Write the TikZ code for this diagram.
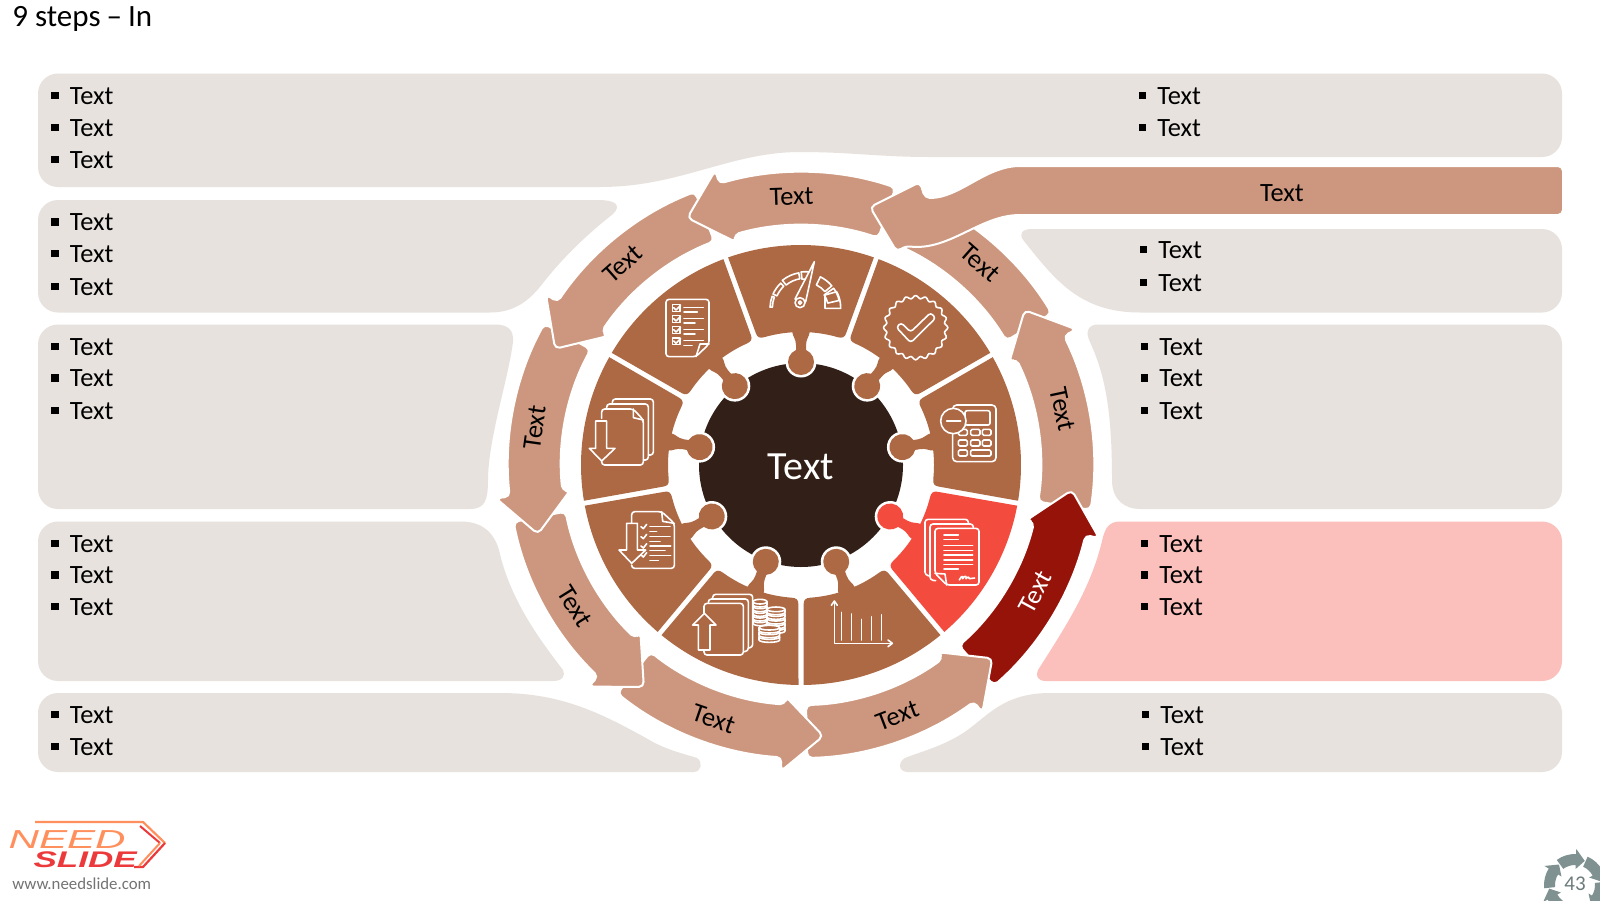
\documentclass[tikz,border=0pt]{standalone}
\usepackage{fontspec}
\setmainfont{Carlito}
\newfontfamily\logofont{Liberation Sans}
\definecolor{secb}{HTML}{AD6844}
\definecolor{secr}{HTML}{F44B3F}
\definecolor{hubc}{HTML}{321F17}
\definecolor{arrc}{HTML}{CC977E}
\definecolor{arrd}{HTML}{96130A}
\definecolor{panc}{HTML}{E7E2DE}
\definecolor{pnkc}{HTML}{FBC0BB}
\definecolor{logoo}{HTML}{FF8F5C}
\definecolor{logor}{HTML}{EC3A3C}
\definecolor{pgc}{HTML}{7F9190}
\newcommand\fs[1]{\fontsize{#1}{#1}\selectfont}
\tikzset{
 panelbox/.style={fill=panc},
 ringscope/.style={shift={(801,465)},y=.5pt},
 zm/.style 2 args={shift={(#1,#2)},x=.16667pt,y=-.16667pt},
 ico/.style={draw=white,line width=.8pt,line join=round,line cap=round},
 arrowshape/.style={draw=white,line width=1pt,line join=round,rounded corners=2.5pt},
 lab/.style={inner sep=0pt,font=\fs{13.2}},
 rowtext/.style={inner sep=0pt,anchor=base west,font=\fs{13.2}},
}
\newcommand\rows[2]{% text x, y list
 \foreach \yy in {#2}{
  \fill[black] ({#1-18.5},{\yy-4.5}) rectangle ({#1-11},{\yy+3});
  \node[rowtext] (t\yy) at (#1,{\yy+8}) {Text};
 }}
\newcommand\gseg[4]{\draw[ico] ([shift={(735,235)}]-#1:#3) arc[start angle=-#1,end angle=-#2,radius=#3] -- ([shift={(735,235)}]-#2:#4) arc[start angle=-#2,end angle=-#1,radius=#4] -- cycle;}
% coin stack: centre x, top y, discs below the top one, x radius
\newcommand\coin[4]{\foreach \i in {#3,...,0}{
  \filldraw[ico,fill=secb] ({#1-#4},{#2+\i*14}) -- ({#1-#4},{#2+\i*14+9}) arc[start angle=180,end angle=0,x radius=#4,y radius=7] -- ({#1+#4},{#2+\i*14}) -- cycle;
  \filldraw[ico,fill=secb] (#1,{#2+\i*14}) ellipse[x radius=#4,y radius=7];
 }}
\begin{document}
\begin{tikzpicture}[x=.5pt,y=-.5pt]
\useasboundingbox (0,0) rectangle (1600,900);
\clip (0,0) rectangle (1600,900);
\fill[white] (0,0) rectangle (1600,900);
% panels
\fill[panelbox] (38,130) [rounded corners=10pt] -- (38,73.5) -- (1562,73.5) -- (1562,157) [sharp corners] -- (930,157) .. controls (880,157) and (850,152) .. (800,152) .. controls (730,152) and (680,187) .. (600,187) [rounded corners=10pt] -- (38,187) -- cycle;
\fill[panelbox] (38,250) [rounded corners=10pt] -- (38,200) [sharp corners] -- (598,200) .. controls (615,200) and (622,205) .. (613,214) .. controls (590,232) and (565,255) .. (543,283) .. controls (530,300) and (515,312.5) .. (490,312.5) [rounded corners=10pt] -- (38,312.5) -- cycle;
\fill[panelbox] (38,400) [rounded corners=10pt] -- (38,324.5) [sharp corners] -- (495,324.5) .. controls (508,324.5) and (514,330) .. (513,342) .. controls (508,380) and (488,440) .. (488,480) .. controls (488,500) and (485,509) .. (470,509) [rounded corners=10pt] -- (38,509) -- cycle;
\fill[panelbox] (38,600) [rounded corners=10pt] -- (38,521.5) [sharp corners] -- (460,521.5) .. controls (480,521.5) and (493,530) .. (499,550) .. controls (510,600) and (540,640) .. (563,670) .. controls (566,676) and (562,681) .. (553,681) [rounded corners=10pt] -- (38,681) -- cycle;
\fill[panelbox] (38,730) [rounded corners=10pt] -- (38,693) [sharp corners] -- (500,693) .. controls (560,693) and (600,712) .. (653,742) .. controls (670,751) and (685,754) .. (697,758) .. controls (703,762) and (702,772) .. (693,772) [rounded corners=10pt] -- (38,772) -- cycle;
\fill[panelbox] (1562,730) [rounded corners=10pt] -- (1562,693) [sharp corners] -- (1050,693) .. controls (1000,693) and (985,720) .. (960,735) .. controls (940,747) and (920,752) .. (905,758) .. controls (898,762) and (898,772) .. (908,772) [rounded corners=10pt] -- (1562,772) -- cycle;
\fill[pnkc] (1562,600) [rounded corners=10pt] -- (1562,521.5) [sharp corners] -- (1120,521.5) .. controls (1108,521.5) and (1105,530) .. (1103,537) .. controls (1092,585) and (1070,620) .. (1038,670) .. controls (1035,676) and (1038,681) .. (1046,681) [rounded corners=10pt] -- (1562,681) -- cycle;
\fill[panelbox] (1562,400) [rounded corners=10pt] -- (1562,324.5) [sharp corners] -- (1098,324.5) .. controls (1088,324.5) and (1085,332) .. (1090,342) .. controls (1105,375) and (1112,410) .. (1112,480) .. controls (1112,500) and (1125,509) .. (1140,509) [rounded corners=10pt] -- (1562,509) -- cycle;
\fill[panelbox] (1562,270) [rounded corners=10pt] -- (1562,229) [sharp corners] -- (1032,229) .. controls (1022,229) and (1018,234) .. (1024,241) .. controls (1055,280) and (1080,312.5) .. (1140,312.5) [rounded corners=10pt] -- (1562,312.5) -- cycle;
% arrows
\begin{scope}[ringscope]
\fill[arrc,arrowshape] (31.2:240) arc[start angle=31.2,end angle=67,radius=240] -- (67:293) arc[start angle=67,end angle=31.2,radius=293] -- cycle;
\foreach \a/\c in {34.7/arrc,-5.3/arrd,-45.3/arrc,-85.3/arrc,-125.3/arrc,-165.3/arrc,154.7/arrc,114.7/arrc}{
 \pgfmathsetmacro\t{\a-43.5}
 \pgfmathsetmacro\b{\a-8.5}
 \fill[\c,arrowshape] (\t:240) arc[start angle=\t,end angle=\b,radius=240] -- (\b:232) -- (\a:272) -- (\b:307) -- (\b:293) arc[start angle=\b,end angle=\t,radius=293] -- cycle;
}
\end{scope}
\fill[arrc,arrowshape] (1563,166) -- (1025,166) .. controls (985,166) and (960,198) .. (925,198) -- (920,182) -- (870,207) -- (897,252) -- (905,246) .. controls (950,251) and (980,215) .. (1025,215) -- (1563,215) -- cycle;
% hub
\fill[hubc] (801,465) circle[radius=102];
\begin{scope}[ringscope]
\foreach \a in {90,50,10,-30,-70,-110,-150,170,130}{
 \fill[white] (\a:103) circle[radius=15.5];
}
\foreach \a/\c in {90/secb,50/secb,10/secb,-30/secr,-70/secb,-110/secb,-150/secb,170/secb,130/secb}{
\begin{scope}[rotate=\a]
 \fill[\c] (-19.35:220) arc[start angle=-19.35,end angle=19.35,radius=220] -- (18.9:139) .. controls (18.9:135) and (18:133) .. (16:133) arc[start angle=16,end angle=3.7,radius=133] .. controls (129,8.5) and (126,5) .. (120,5) -- (112,5) -- (112,-5) -- (120,-5) .. controls (126,-5) and (129,-8.5) .. (-3.7:133) arc[start angle=-3.7,end angle=-16,radius=133] .. controls (-18:133) and (-18.9:135) .. (-18.9:139) -- cycle;
 \fill[\c] (103,0) circle[radius=13];
\end{scope}
}
\end{scope}
% gauge
\begin{scope}[zm={560}{230}]
\gseg{178}{160}{105}{98}
\gseg{156}{134}{105}{92}
\gseg{129}{100}{108}{90}
\gseg{96}{80}{110}{88}
\gseg{64}{40}{105}{78}
\gseg{35}{13}{105}{70}
\draw[ico] (795,235) -- (795,195) -- (830,185) .. controls (838,200) and (842,215) .. (842,235) -- cycle;
\filldraw[ico,fill=secb] (705,207) -- (763,95) -- (737,215) -- cycle;
\filldraw[ico,fill=secb] (720,218) circle[radius=15];
\draw[ico] (720,218) circle[radius=5];
% badge
\draw[ico] plot[smooth cycle,domain=0:357,samples=120] ({1067+(92+4.5*cos(20*\x))*cos(\x)},{293+(92+4.5*cos(20*\x))*sin(\x)});
\draw[ico,rounded corners=1.5pt] (1009,292) -- (1023,278) -- (1052,306) -- (1112,248) -- (1127,264) -- (1052,338) -- cycle;
% checklist
\draw[ico,rounded corners=1.5pt] (318,208) -- (447,208) -- (447,342) -- (408,380) -- (318,380) -- cycle;
\draw[ico] (447,342) -- (420,342) -- (408,380);
\foreach \y/\l/\m in {232/430/412,265/430/405,298/430/405,332/430/396}{
 \draw[ico] (338,{\y-8}) rectangle (360,{\y+12});
 \draw[ico] (341,{\y+1}) -- (348,{\y+8}) -- (362,{\y-6});
 \draw[ico] (372,\y) -- (\l,\y);
 \draw[ico] (372,{\y+14}) -- (\m,{\y+14});
}
\end{scope}
% docs down
\begin{scope}[zm={580}{385}]
\draw[ico,rounded corners=1.5pt] (97,57) -- (97,42) -- (220,42) -- (220,210) -- (205,210);
\draw[ico,rounded corners=1.5pt] (80,72) -- (80,57) -- (205,57) -- (205,225) -- (190,225);
\draw[ico,rounded corners=1.5pt] (65,100) -- (65,72) -- (160,72) -- (190,105) -- (190,240) -- (65,240) -- (65,228);
\draw[ico] (160,72) -- (160,98) -- (190,105);
\draw[ico] (47,108) -- (80,108) -- (80,190) -- (105,190) -- (65,228) -- (28,190) -- (47,190) -- cycle;
\end{scope}
% calculator
\begin{scope}[zm={930}{395}]
\draw[ico,rounded corners=2pt] (68,30) rectangle (198,200);
\draw[ico,rounded corners=1pt] (105,47) rectangle (180,90);
\foreach \x/\y/\xx in {85/103/112,122/103/150,157/103/183,85/135/112,122/135/150,157/135/183,85/165/112,122/165/183}{
 \draw[ico,rounded corners=.7pt] (\x,\y) rectangle (\xx,{\y+18});
}
\filldraw[ico,fill=secb] (70,78) circle[radius=38];
\draw[ico] (50,78) -- (92,78);
\end{scope}
% docs with checks and down arrow
\begin{scope}[zm={480}{500}]
\draw[ico,rounded corners=1.5pt] (455,68) -- (455,35) -- (545,35) -- (583,70) -- (583,205) -- (455,205) -- (455,195);
\draw[ico] (545,35) -- (548,64) -- (583,70);
\foreach \y/\e in {80/570,95/530,110/570,125/540,138/572,152/555,167/572,182/535}{
 \draw[ico] (510,\y) -- (\e,\y);
}
\foreach \y in {80,110,138,165}{
 \draw[ico] (483,\y) -- (490,{\y+6}) -- (500,{\y-7});
}
\draw[ico] (440,70) -- (472,70) -- (472,150) -- (497,150) -- (455,190) -- (417,150) -- (440,150) -- cycle;
\end{scope}
% docs up + coins
\begin{scope}[zm={560}{450}]
\coin{600}{455}{4}{21}
\coin{648}{478}{4}{27}
\coin{628}{533}{2}{31}
\draw[ico,rounded corners=1.5pt] (458,447) -- (458,433) -- (578,433) -- (578,592) -- (565,594);
\draw[ico,rounded corners=1.5pt] (445,460) -- (445,447) -- (565,447) -- (565,603) -- (551,605);
\filldraw[ico,fill=secb,rounded corners=1.5pt] (432,490) -- (432,460) -- (550,460) -- (550,615) -- (432,615) -- (432,600);
\filldraw[ico,fill=secb] (415,600) -- (415,525) -- (398,525) -- (433,490) -- (468,525) -- (450,525) -- (450,600) -- cycle;
% chart
\draw[ico] (823,455) -- (823,580) -- (995,580);
\draw[ico] (814,466) -- (823,453) -- (832,466);
\draw[ico] (984,570) -- (997,580) -- (984,590);
\foreach \x/\y in {845/487,875/492,905/508,935/500,965/494}{
 \draw[ico] (\x,\y) -- (\x,570);
}
\end{scope}
% red doc
\begin{scope}[zm={880}{500}]
\draw[ico,rounded corners=1.5pt] (265,70) -- (265,58) -- (135,58) -- (135,225) -- (150,228);
\draw[ico,rounded corners=1.5pt] (280,85) -- (280,72) -- (150,72) -- (150,240) -- (167,242);
\filldraw[ico,fill=secr,rounded corners=1.5pt] (165,220) -- (165,85) -- (297,85) -- (297,255) -- (200,255) -- cycle;
\draw[ico] (165,220) -- (195,222) -- (200,255);
\foreach \y/\e in {105/235,118/235,136/278,151/278,165/278,180/278,193/278,207/235}{
 \draw[ico] (192,\y) -- (\e,\y);
}
\draw[ico] (238,240) .. controls (245,225) and (250,228) .. (248,236) .. controls (255,225) and (260,228) .. (258,236) .. controls (265,228) and (268,232) .. (268,236) -- (284,234);
\end{scope}
% texts in ring
\begin{scope}[ringscope]
\foreach \ang/\rot/\rr/\c/\nm in {92/2/268.5/black/la,131.6/41.6/268.5/black/lb,172/82/269/black/lc,212/-58/266.5/black/ld,251/-19/268.5/black/le,-69/21/268.5/black/lf,-28.5/61.5/266.5/white/lg,12/-78/267.5/black/lh,48.5/-41.5/270/black/li}{
 \node[lab,text=\c,rotate=\rot] (\nm) at (\ang:\rr) {Text};
}
\end{scope}
\node[lab] (bartext) at (1282,193) {Text};
\node[inner sep=0pt,text=white,font=\fs{20}] (hub) at (801,467) {Text};
% bullets
\rows{69.5}{96,128,160,222.5,254,287,347,378.5,411,544,575.5,607,715,747}
\rows{1157}{96,128}
\rows{1158}{250,283}
\rows{1159}{347,378.5,411,544,575.5,607}
\rows{1160}{715,747}
% title
\node[inner sep=0pt,anchor=base west,font=\fs{15.5}] (title) at (12,26) {9 steps\hspace{-.5pt} -- \hspace{-.5pt}In};
% logo
\draw[logoo,line width=1.1pt,line join=round] (35,822) -- (143,822) -- (165,843);
\draw[logor,line width=1.1pt,line join=round] (165,843) -- (143,867) -- (134,867);
\draw[logor,line width=1pt] (140,826) -- (160,843);
\draw[logoo,line width=1pt] (160,843) -- (139,866);
\node[inner sep=0pt,anchor=base west,text=logoo,font={\logofont\itshape\fs{13}},xscale=1.62] (need) at (8,848) {NEED};
\node[inner sep=0pt,anchor=base west,text=logor,font={\logofont\itshape\bfseries\fs{11.3}},xscale=1.55] (slide) at (33,867) {SLIDE};
\node[inner sep=0pt,anchor=base west,text=black!55,font=\fs{8.4}] (web) at (12,889) {www.needslide.com};
% page number
\begin{scope}[shift={(1575,885)},y=.5pt]
\foreach \a in {68,8,-52,-112,-172,128}{
 \pgfmathsetmacro\t{\a+58}
 \pgfmathsetmacro\b{\a+20}
 \fill[pgc] (\t:20) arc[start angle=\t,end angle=\b,radius=20] -- (\b:16) -- (\a:26) -- (\b:36) -- (\b:31) arc[start angle=\b,end angle=\t,radius=31] -- cycle;
}
\end{scope}
\node[inner sep=0pt,text=pgc!85!black,font=\fs{10.5}] (pagenum) at (1575,884) {43};
\end{tikzpicture}
\end{document}
